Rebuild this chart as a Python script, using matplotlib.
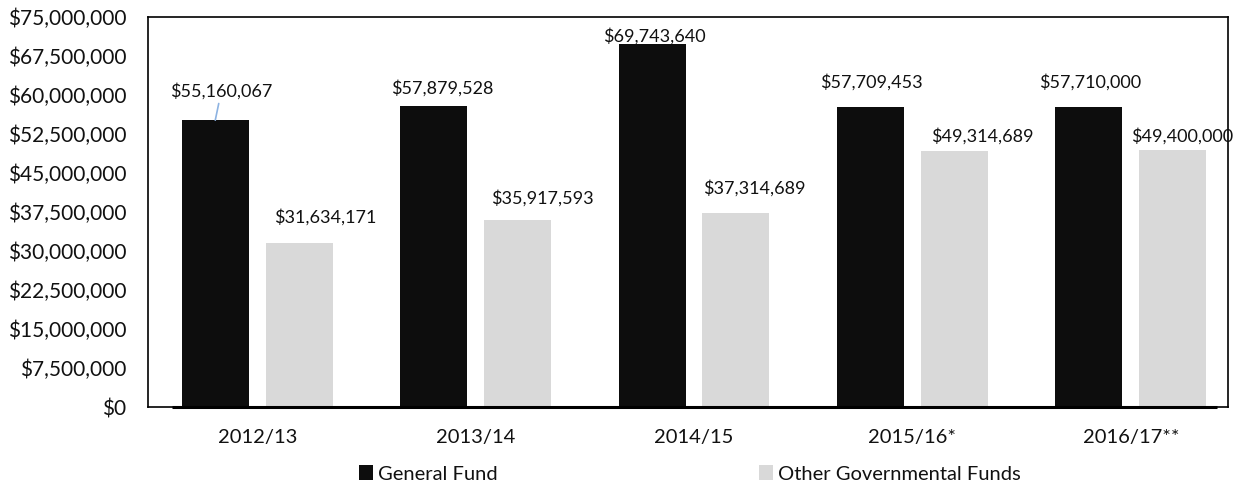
import matplotlib
matplotlib.use("Agg")
import matplotlib.pyplot as plt
from matplotlib.patches import Patch
from matplotlib.ticker import FuncFormatter, MultipleLocator
import numpy as np

# Fiscal years and funding amounts
years = ["2012/13", "2013/14", "2014/15", "2015/16*", "2016/17**"]
general_fund = [55160067, 57879528, 69743640, 57709453, 57710000]
other_funds = [31634171, 35917593, 37314689, 49314689, 49400000]
series_names = ["General Fund", "Other Governmental Funds"]

# Label offsets (points) from each bar top, placed by hand
gf_offsets = [(4, 21), (6, 13), (2, 6), (1, 18), (1, 18)]
of_offsets = [(19, 18), (18, 16), (13, 18), (20, 10), (7, 10)]

BLACK = "#0d0d0d"
GREY = "#d9d9d9"
FONT = "Lato"

plt.rcParams["font.family"] = [FONT, "DejaVu Sans"]

fig = plt.figure(figsize=(12.42, 4.82), dpi=100)
ax = fig.add_axes([148 / 1242, 75 / 482, 1080 / 1242, 390 / 482])

x = np.arange(len(years))
width = 0.307
off = 0.192

ax.bar(x - off, general_fund, width, color=BLACK, zorder=2)
ax.bar(x + off, other_funds, width, color=GREY, zorder=2)

ax.set_ylim(0, 75_000_000)
ax.set_xlim(-0.5, -0.5 + 1080 / 218.4)
ax.yaxis.set_major_locator(MultipleLocator(7_500_000))
ax.yaxis.set_major_formatter(FuncFormatter(lambda v, p: f"${v:,.0f}"))
ax.set_xticks(x)
ax.set_xticklabels(years)
ax.tick_params(axis="y", length=0, pad=15.5, labelsize=15, colors="#111111")
ax.tick_params(axis="x", length=0, pad=16, labelsize=14.5, colors="#111111")

for s in ax.spines.values():
    s.set_linewidth(1.2)
    s.set_color("#000000")

# heavier category axis line
ax.plot([0.022, 0.99], [0, 0], transform=ax.transAxes, color="#000000",
        lw=2.2, solid_capstyle="butt", clip_on=False, zorder=3)


def money(v):
    return f"${v:,.0f}"


for i, v in enumerate(general_fund):
    dx, dy = gf_offsets[i]
    ax.annotate(money(v), (x[i] - off, v), xytext=(dx, dy), textcoords="offset points",
                ha="center", va="center", fontsize=13, color="#111111", zorder=4)

for i, v in enumerate(other_funds):
    dx, dy = of_offsets[i]
    ax.annotate(money(v), (x[i] + off, v), xytext=(dx, dy), textcoords="offset points",
                ha="center", va="center", fontsize=13, color="#111111", zorder=4)

# leader line for the first General Fund label
ax.annotate("", xy=(x[0] - off, general_fund[0]), xytext=(2.5, 12), textcoords="offset points",
            arrowprops=dict(arrowstyle="-", color="#8db3e2", lw=1.2, shrinkA=0, shrinkB=0))

handles = [Patch(facecolor=BLACK, edgecolor="none"), Patch(facecolor=GREY, edgecolor="none")]
fig.legend(handles, series_names, loc="center", bbox_to_anchor=(690 / 1242, 8 / 482),
           ncol=2, frameon=False, fontsize=14.5, handlelength=0.7, handleheight=0.7,
           handletextpad=0.25, columnspacing=13, labelcolor="#111111",
           borderpad=0, borderaxespad=0)

fig.savefig("out.png", dpi=100)
